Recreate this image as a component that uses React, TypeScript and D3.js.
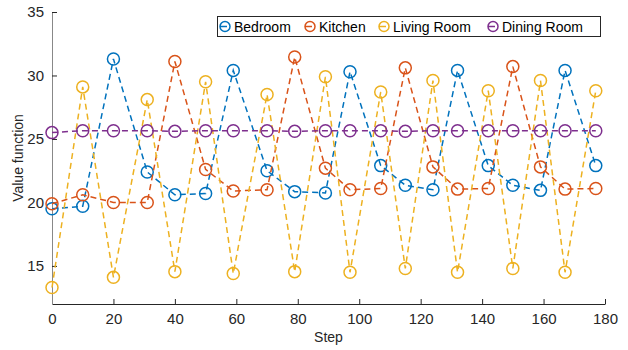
import React, { useEffect, useRef } from 'react';
import * as d3 from 'd3';

const steps = [0, 10, 20, 31, 40, 50, 59, 70, 79, 89, 97, 107, 115, 124, 132, 142, 150, 159, 167, 177];

const bedroom = [19.5, 19.7, 31.3, 22.4, 20.6, 20.7, 30.4, 22.5, 20.85, 20.75, 30.3, 22.9, 21.35, 21.0, 30.4, 22.9, 21.35, 20.95, 30.4, 22.9];
const kitchen = [19.9, 20.6, 20.0, 20.0, 31.1, 22.6, 20.9, 21.0, 31.45, 22.7, 21.0, 21.1, 30.6, 22.8, 21.05, 21.1, 30.7, 22.8, 21.05, 21.1];
const livingRoom = [13.3, 29.1, 14.1, 28.1, 14.55, 29.5, 14.4, 28.5, 14.55, 29.9, 14.5, 28.7, 14.8, 29.6, 14.5, 28.8, 14.8, 29.6, 14.5, 28.8];
const diningRoom = [25.5, 25.65, 25.65, 25.65, 25.6, 25.65, 25.65, 25.65, 25.6, 25.65, 25.65, 25.65, 25.6, 25.65, 25.65, 25.65, 25.65, 25.65, 25.65, 25.65];

const seriesNames = ['Bedroom', 'Kitchen', 'Living Room', 'Dining Room'];
const seriesColors = ['#0072BD', '#D95319', '#EDB120', '#7E2F8E'];
const xTicks = [0, 20, 40, 60, 80, 100, 120, 140, 160, 180];
const yTicks = [15, 20, 25, 30, 35];

const App = () => {
  const svgRef = useRef<SVGSVGElement>(null);

  useEffect(() => {
    const svg = d3.select(svgRef.current);
    svg.selectAll('*').remove();

    const width = 628;
    const height = 350;
    const margin = { top: 12, right: 23, bottom: 46, left: 52 };
    const chartWidth = width - margin.left - margin.right;
    const chartHeight = height - margin.top - margin.bottom;
    const font = 'Liberation Sans, Arial, Helvetica, sans-serif';

    const chart = svg.append('g')
      .attr('transform', `translate(${margin.left},${margin.top})`);

    const x = d3.scaleLinear().domain([0, 180]).range([0, chartWidth]);
    const y = d3.scaleLinear().domain([12, 35]).range([chartHeight, 0]);

    // axes (MATLAB style, ticks inward)
    const xAxis = chart.append('g')
      .attr('transform', `translate(0,${chartHeight})`)
      .call(d3.axisBottom(x).tickValues(xTicks).tickSize(-5).tickSizeOuter(0).tickPadding(9));
    xAxis.select('.domain').attr('stroke', '#262626');
    xAxis.selectAll('.tick line').attr('stroke', '#262626');
    xAxis.selectAll('text')
      .style('font-family', font).style('font-size', '15px').attr('fill', '#262626');

    const yAxis = chart.append('g')
      .call(d3.axisLeft(y).tickValues(yTicks).tickSize(-5).tickSizeOuter(0).tickPadding(8));
    yAxis.select('.domain').attr('stroke', '#888888');
    yAxis.selectAll('.tick line').attr('stroke', '#262626');
    yAxis.selectAll('text')
      .style('font-family', font).style('font-size', '15px').attr('fill', '#262626');

    chart.append('text')
      .attr('x', chartWidth / 2)
      .attr('y', chartHeight + 38)
      .attr('text-anchor', 'middle')
      .style('font-family', font).style('font-size', '14px')
      .attr('fill', '#262626')
      .text('Step');

    chart.append('text')
      .attr('transform', `translate(-29,${chartHeight / 2}) rotate(-90)`)
      .attr('text-anchor', 'middle')
      .style('font-family', font).style('font-size', '14px')
      .attr('fill', '#262626')
      .text('Value function');

    const allSeries = [bedroom, kitchen, livingRoom, diningRoom];
    const line = d3.line<number>()
      .x((d, i) => x(steps[i]))
      .y(d => y(d));

    allSeries.forEach((vals, si) => {
      chart.append('path')
        .datum(vals)
        .attr('d', line)
        .attr('fill', 'none')
        .attr('stroke', seriesColors[si])
        .attr('stroke-width', 1.5)
        .attr('stroke-dasharray', '6,4');

      chart.selectAll(`.pt-${si}`)
        .data(vals)
        .enter()
        .append('circle')
        .attr('class', `pt-${si}`)
        .attr('cx', (d, i) => x(steps[i]))
        .attr('cy', d => y(d))
        .attr('r', 6)
        .attr('fill', 'none')
        .attr('stroke', seriesColors[si])
        .attr('stroke-width', 1.5);
    });

    // legend
    const legend = svg.append('g');
    legend.append('rect')
      .attr('x', 217.5).attr('y', 16.5)
      .attr('width', 383).attr('height', 20)
      .attr('fill', 'white')
      .attr('stroke', '#262626')
      .attr('stroke-width', 1);

    const legendX = [225, 310, 384, 493];
    seriesNames.forEach((name, i) => {
      legend.append('line')
        .attr('x1', legendX[i] - 5).attr('x2', legendX[i] + 2)
        .attr('y1', 26.5).attr('y2', 26.5)
        .attr('stroke', seriesColors[i]).attr('stroke-width', 1.5);
      legend.append('circle')
        .attr('cx', legendX[i]).attr('cy', 26.5).attr('r', 5)
        .attr('fill', 'none')
        .attr('stroke', seriesColors[i]).attr('stroke-width', 1.5);
      legend.append('text')
        .attr('x', legendX[i] + 9).attr('y', 31.5)
        .style('font-family', font).style('font-size', '14px')
        .attr('fill', '#000')
        .text(name);
    });
  }, []);

  return (
    <svg
      ref={svgRef}
      width={628}
      height={350}
      style={{ position: 'absolute', left: 0, top: 0, background: 'white' }}
    ></svg>
  );
};

export default App;
